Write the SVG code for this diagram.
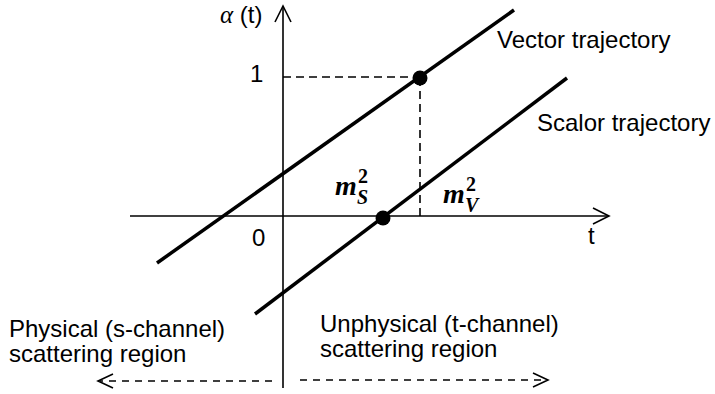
<svg xmlns="http://www.w3.org/2000/svg" width="715" height="394" viewBox="0 0 715 394">
<style>
text{font-family:"Liberation Sans",Arial,sans-serif;font-size:24px;fill:#000}
.m{font-family:"Liberation Serif","Times New Roman",serif;font-style:italic;font-weight:bold;font-size:28px}
.sub{font-size:20px}
.sup{font-size:20px;font-style:normal}
.axis{stroke:#000;stroke-width:1.6;fill:none}
.traj{stroke:#000;stroke-width:3.5;fill:none}
.dash{stroke:#000;stroke-width:1.6;stroke-dasharray:8 5;fill:none}
.dash2{stroke:#000;stroke-width:1.4;stroke-dasharray:7 6;fill:none}
.head{stroke:#000;stroke-width:1.6;fill:none}
</style>
<g id="connectors">
<line class="axis" x1="283" y1="388" x2="283" y2="6"/>
<polyline class="head" points="275,22 283,6 291,22"/>
<line class="axis" x1="130" y1="216" x2="608" y2="216"/>
<polyline class="head" points="593,208 609,216 593,224"/>
<line class="dash" x1="283" y1="77" x2="420" y2="77"/>
<line class="dash" x1="420" y1="78" x2="420" y2="216"/>
<line class="dash2" x1="272" y1="381" x2="100" y2="381"/>
<polyline class="head" points="113,374 98,381 113,388"/>
<line class="dash2" x1="300" y1="380" x2="546" y2="380"/>
<polyline class="head" points="533,373 548,380 533,387"/>
</g>
<g id="vector-trajectory">
<line class="traj" x1="157" y1="263" x2="514" y2="10"/>
<text x="497" y="48">Vector trajectory</text>
</g>
<g id="scalar-trajectory">
<line class="traj" x1="255" y1="314" x2="567" y2="78"/>
<text x="537" y="131">Scalor trajectory</text>
</g>
<g id="vector-point"><circle cx="420" cy="78" r="7.5" fill="#000"/></g>
<g id="scalar-point"><circle cx="383" cy="218" r="7.5" fill="#000"/></g>
<g id="axis-labels">
<text x="220" y="23" font-size="23"><tspan font-family="'Liberation Serif',serif" font-style="italic" font-size="25">α</tspan> (t)</text>
<text x="250" y="82">1</text>
<text x="252" y="246">0</text>
<text x="588" y="244">t</text>
</g>
<g id="mass-labels">
<text class="m" x="335" y="195">m<tspan class="sub" x="357" y="204">S</tspan><tspan class="sup" x="358" y="183">2</tspan></text>
<text class="m" x="443" y="203">m<tspan class="sub" x="465" y="212">V</tspan><tspan class="sup" x="466" y="191">2</tspan></text>
</g>
<g id="physical-region">
<text x="9" y="337">Physical (s-channel)</text>
<text x="9" y="362">scattering region</text>
</g>
<g id="unphysical-region">
<text x="320" y="332">Unphysical (t-channel)</text>
<text x="320" y="357">scattering region</text>
</g>
</svg>
